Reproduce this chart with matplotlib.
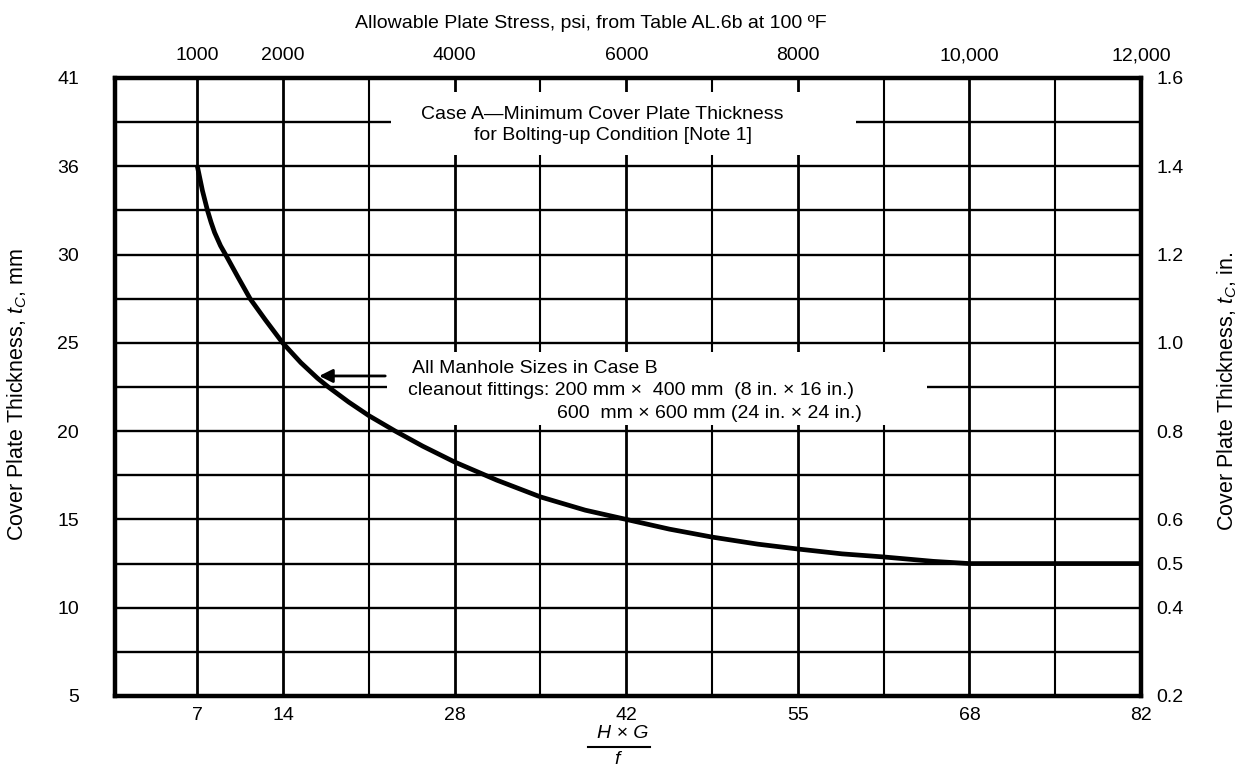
import matplotlib.pyplot as plt
from matplotlib.lines import Line2D
from matplotlib.patches import Rectangle

plt.rcParams.update({
    "font.family": ["Liberation Sans", "DejaVu Sans"],
    "font.size": 14,
    "mathtext.fontset": "custom",
    "mathtext.rm": "Liberation Sans",
    "mathtext.it": "Liberation Sans:italic",
    "figure.facecolor": "white",
    "axes.facecolor": "white",
})

# Curva (esfuerzo admisible psi -> espesor en pulgadas)
stress_psi = [1000, 1059, 1118, 1160, 1201, 1270, 1343, 1473, 1615, 1793, 1994, 2207, 2400,
              2527, 2763, 3000, 3308, 3627, 4000, 4491, 5000, 5521, 6000, 6503, 7000, 7533,
              8000, 8515, 9000, 9580, 10000, 11000, 12000]
thickness_in = [1.40, 1.345, 1.30, 1.273, 1.250, 1.220, 1.195, 1.149, 1.10, 1.052, 1.00, 0.955,
                0.92, 0.90, 0.866, 0.835, 0.80, 0.766, 0.73, 0.689, 0.651, 0.621, 0.60, 0.578,
                0.56, 0.544, 0.533, 0.522, 0.515, 0.505, 0.50, 0.50, 0.50]

# Ejes
bottom_tick_psi = [1000, 2000, 4000, 6000, 8000, 10000, 12000]
bottom_tick_labels = ["7", "14", "28", "42", "55", "68", "82"]
top_tick_labels = ["1000", "2000", "4000", "6000", "8000", "10,000", "12,000"]
left_tick_in = [1.6, 1.4, 1.2, 1.0, 0.8, 0.6, 0.4, 0.2]
left_tick_labels = ["41", "36", "30", "25", "20", "15", "10", "5"]
right_tick_in = [1.6, 1.4, 1.2, 1.0, 0.8, 0.6, 0.5, 0.4, 0.2]
right_tick_labels = ["1.6", "1.4", "1.2", "1.0", "0.8", "0.6", "0.5", "0.4", "0.2"]
grid_psi = [1000, 2000, 3000, 4000, 5000, 6000, 7000, 8000, 9000, 10000, 11000]
grid_in = [0.3, 0.4, 0.5, 0.6, 0.7, 0.8, 0.9, 1.0, 1.1, 1.2, 1.3, 1.4, 1.5]

W, H = 1239, 767
fig = plt.figure(figsize=(W / 100, H / 100), dpi=100)
ax = fig.add_axes([115 / W, 71 / H, 1026 / W, 618 / H])
ax.set_xlim(40, 12000)
ax.set_ylim(0.2, 1.6)

# Reticula
for x in grid_psi:
    ax.axvline(x, color="black", lw=2.0 if x in bottom_tick_psi else 1.5, zorder=1)
for y in grid_in:
    ax.axhline(y, color="black", lw=1.7, zorder=1)

# Zonas blancas detras de los textos
ax.add_patch(Rectangle((3260, 1.426), 8680 - 3260, 1.568 - 1.426,
                       facecolor="white", edgecolor="none", zorder=2))
ax.add_patch(Rectangle((3210, 0.815), 9500 - 3210, 0.98 - 0.815,
                       facecolor="white", edgecolor="none", zorder=2))

ax.text(5720, 1.518, "Case A\u2014Minimum Cover Plate Thickness", ha="center", va="center", zorder=4)
ax.text(5845, 1.469, "for Bolting-up Condition [Note 1]", ha="center", va="center", zorder=4)

ax.text(3502, 0.943, "All Manhole Sizes in Case B", ha="left", va="center", zorder=4)
ax.text(3455, 0.893, "cleanout fittings: 200 mm \u00d7  400 mm  (8 in. \u00d7 16 in.)",
        ha="left", va="center", zorder=4)
ax.text(5192, 0.841, "600  mm \u00d7 600 mm (24 in. \u00d7 24 in.)", ha="left", va="center", zorder=4)
ax.annotate("", xy=(2420, 0.925), xytext=(3190, 0.925), zorder=4,
            arrowprops=dict(arrowstyle="-|>", color="black", lw=2, mutation_scale=20,
                            shrinkA=0, shrinkB=0))

# Curva
ax.plot(stress_psi, thickness_in, color="black", lw=3.4, zorder=3,
        solid_joinstyle="round", solid_capstyle="butt")

for s in ax.spines.values():
    s.set_linewidth(3.2)
    s.set_color("black")
    s.set_zorder(5)

ax.set_xticks(bottom_tick_psi, bottom_tick_labels)
ax.set_yticks(left_tick_in, left_tick_labels)
ax.tick_params(axis="x", length=0, pad=8)
ax.tick_params(axis="y", length=0, pad=26)

top = ax.secondary_xaxis("top")
top.set_xticks(bottom_tick_psi, top_tick_labels)
top.tick_params(length=0, pad=10)
right = ax.secondary_yaxis("right")
right.set_yticks(right_tick_in, right_tick_labels)
right.tick_params(length=0, pad=11)
for sec in (top, right):
    for s in sec.spines.values():
        s.set_visible(False)

# Etiquetas
fig.text(591 / W, 1 - 23 / H, "Allowable Plate Stress, psi, from Table AL.6b at 100 \u00baF",
         ha="center", va="center")
fig.text(17 / W, 1 - 395 / H, "Cover Plate Thickness, $t_C$, mm", rotation=90,
         ha="center", va="center", fontsize=15.5)
fig.text(1227 / W, 1 - 391 / H, "Cover Plate Thickness, $t_C$, in.", rotation=90,
         ha="center", va="center", fontsize=15.5)
fig.text(623 / W, 1 - 733 / H, "H \u00d7 G", style="italic", ha="center", va="center")
fig.add_artist(Line2D([588 / W, 650 / W], [1 - 747 / H, 1 - 747 / H], color="black", lw=1.5))
fig.text(617 / W, 1 - 760 / H, "f", style="italic", ha="center", va="center")

fig.savefig("out.png", dpi=100)
